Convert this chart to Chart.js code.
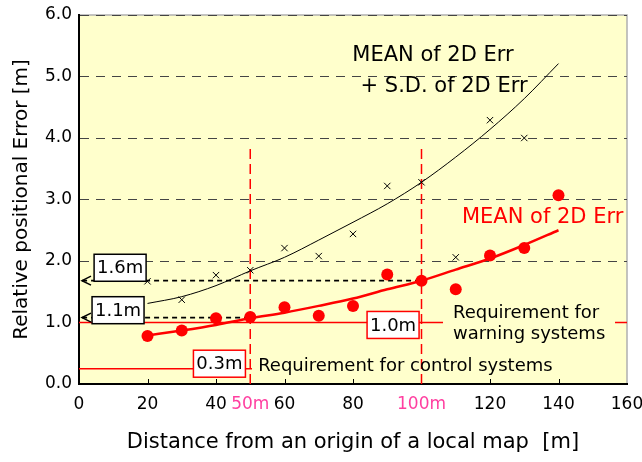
<!DOCTYPE html>
<html>
<head>
<meta charset="utf-8">
<script src="https://cdn.jsdelivr.net/npm/chart.js@4.4.1/dist/chart.umd.min.js"></script>
<style>
html, body { margin: 0; padding: 0; background: #fff; }
#wrap { width: 642px; height: 462px; }
</style>
</head>
<body>
<div id="wrap"><canvas id="chart" width="642" height="462"></canvas></div>
<script>
// Measured points
const distances = [20, 30, 40, 50, 60, 70, 80, 90, 100, 110, 120, 130, 140];
const meanErr = [0.78, 0.87, 1.07, 1.09, 1.25, 1.11, 1.27, 1.78, 1.68, 1.54, 2.09, 2.21, 3.07];
const sdDistances = [20, 30, 40, 50, 60, 70, 80, 90, 100, 110, 120, 130];
const meanSdErr = [1.67, 1.37, 1.77, 1.85, 2.21, 2.08, 2.44, 3.22, 3.28, 2.06, 4.29, 4.00];

// Fitted curves
const meanFit = [0.79, 0.87, 0.96, 1.07, 1.16, 1.27, 1.39, 1.54, 1.68, 1.86, 2.04, 2.26, 2.50];
const meanSdFit = [1.31, 1.42, 1.60, 1.84, 2.06, 2.34, 2.63, 2.93, 3.28, 3.69, 4.14, 4.64, 5.21];

// Reference levels
const warningLevel = 1.0;
const controlLevel = 0.25;
const level50 = 1.08;
const level100 = 1.68;
const markedDistances = [50, 100];
const markerTop = 3.87;

// Axes
const xTicks = [0, 20, 40, 50, 60, 80, 100, 120, 140, 160];
const xTickLabels = ['0', '20', '40', '50m', '60', '80', '100m', '120', '140', '160'];
const yTicks = [0, 1, 2, 3, 4, 5, 6];

const FONT = 'DejaVu Sans';
const RED = '#ff0000';
const PINK = '#ff3fa0';

function pts(xs, ys) {
    return xs.map((x, i) => ({ x: x, y: ys[i] }));
}

function hline(y, x0, x1) {
    return [{ x: x0, y: y }, { x: x1, y: y }];
}

// Labels in data coordinates
const textLabels = [
    { text: 'MEAN of 2D Err', x: 79.8, y: 5.34, color: '#000', size: 21 },
    { text: '+ S.D. of 2D Err', x: 82.2, y: 4.83, color: '#000', size: 21 },
    { text: 'MEAN of 2D Err', x: 111.8, y: 2.70, color: RED, size: 21 },
    { text: 'Requirement for control systems', x: 52.3, y: 0.28, color: '#000', size: 18 }
];
const boxLabels = [
    { text: '1.6m', x: 12.0, y: 1.89, border: '#000' },
    { text: '1.1m', x: 11.4, y: 1.20, border: '#000' },
    { text: '0.3m', x: 41.0, y: 0.33, border: RED },
    { text: '1.0m', x: 91.7, y: 0.96, border: RED }
];

const decorPlugin = {
    id: 'decor',
    beforeDraw(chart) {
        const { ctx, chartArea: a } = chart;
        ctx.save();
        ctx.fillStyle = '#ffffcc';
        ctx.fillRect(a.left, a.top, a.right - a.left, a.bottom - a.top);
        ctx.strokeStyle = '#b0b0b0';
        ctx.lineWidth = 1.5;
        ctx.beginPath();
        ctx.moveTo(a.left, a.top);
        ctx.lineTo(a.right, a.top);
        ctx.lineTo(a.right, a.bottom);
        ctx.stroke();
        ctx.restore();
    },
    afterDatasetsDraw(chart) {
        const { ctx, chartArea: a } = chart;
        const xs = chart.scales.x, ys = chart.scales.y;
        ctx.save();

        // inward tick marks
        ctx.strokeStyle = '#000';
        ctx.lineWidth = 1;
        xTicks.forEach(v => {
            if (v === 0 || v === 160 || markedDistances.includes(v)) return;
            const px = Math.round(xs.getPixelForValue(v)) + 0.5;
            ctx.beginPath();
            ctx.moveTo(px, a.bottom);
            ctx.lineTo(px, a.bottom - 5);
            ctx.stroke();
        });

        // arrow heads on the dashed levels
        [level100, level50].forEach(lv => {
            const px = xs.getPixelForValue(0) + 3;
            const py = ys.getPixelForValue(lv);
            ctx.lineWidth = 1.5;
            ctx.beginPath();
            ctx.moveTo(px + 9, py - 4.5);
            ctx.lineTo(px, py);
            ctx.lineTo(px + 9, py + 4.5);
            ctx.stroke();
        });

        // warning text on a yellow patch
        const wx = xs.getPixelForValue(109.2);
        const wy1 = ys.getPixelForValue(1.15);
        const wy2 = ys.getPixelForValue(0.80);
        ctx.fillStyle = '#ffffcc';
        ctx.fillRect(wx - 10, wy1 - 13, 172, wy2 - wy1 + 26);
        ctx.font = '18px "' + FONT + '"';
        ctx.fillStyle = '#000';
        ctx.textBaseline = 'middle';
        ctx.textAlign = 'left';
        ctx.fillText('Requirement for', wx, wy1);
        ctx.fillText('warning systems', wx, wy2);

        textLabels.forEach(l => {
            ctx.font = l.size + 'px "' + FONT + '"';
            ctx.fillStyle = l.color;
            ctx.fillText(l.text, xs.getPixelForValue(l.x), ys.getPixelForValue(l.y));
        });

        boxLabels.forEach(b => {
            const cx = xs.getPixelForValue(b.x);
            const cy = ys.getPixelForValue(b.y);
            const w = 52, h = 27;
            ctx.fillStyle = '#fff';
            ctx.fillRect(cx - w / 2, cy - h / 2, w, h);
            ctx.strokeStyle = b.border;
            ctx.lineWidth = 1.5;
            ctx.strokeRect(cx - w / 2, cy - h / 2, w, h);
            ctx.font = '18px "' + FONT + '"';
            ctx.fillStyle = '#000';
            ctx.textAlign = 'center';
            ctx.fillText(b.text, cx, cy + 1);
            ctx.textAlign = 'left';
        });
        ctx.restore();
    }
};

const lineStyle = { pointRadius: 0, fill: false, showLine: true };

new Chart(document.getElementById('chart'), {
    type: 'scatter',
    data: {
        datasets: [
            {
                label: 'MEAN',
                data: pts(distances, meanErr),
                pointStyle: 'circle',
                pointRadius: 6,
                backgroundColor: RED,
                borderWidth: 0
            },
            {
                label: 'MEAN + SD',
                data: pts(sdDistances, meanSdErr),
                pointStyle: 'crossRot',
                pointRadius: 4.5,
                borderColor: '#000',
                borderWidth: 1
            },
            Object.assign({
                label: 'MEAN fit',
                data: pts(distances, meanFit),
                borderColor: RED,
                borderWidth: 2.5,
                cubicInterpolationMode: 'monotone'
            }, lineStyle),
            Object.assign({
                label: 'MEAN + SD fit',
                data: pts(distances, meanSdFit),
                borderColor: '#000',
                borderWidth: 1,
                cubicInterpolationMode: 'monotone'
            }, lineStyle),
            Object.assign({
                data: hline(level100, 0.9, 100),
                borderColor: '#000',
                borderWidth: 1.8,
                borderDash: [5, 4]
            }, lineStyle),
            Object.assign({
                data: hline(level50, 0.9, 50),
                borderColor: '#000',
                borderWidth: 1.8,
                borderDash: [5, 4]
            }, lineStyle),
            Object.assign({
                data: [{ x: markedDistances[0], y: 0 }, { x: markedDistances[0], y: markerTop }],
                borderColor: RED,
                borderWidth: 1.5,
                borderDash: [10, 5]
            }, lineStyle),
            Object.assign({
                data: [{ x: markedDistances[1], y: 0 }, { x: markedDistances[1], y: markerTop }],
                borderColor: RED,
                borderWidth: 1.5,
                borderDash: [10, 5]
            }, lineStyle),
            Object.assign({
                data: hline(warningLevel, 0, 160),
                borderColor: RED,
                borderWidth: 1.5
            }, lineStyle),
            Object.assign({
                data: hline(controlLevel, 0, 50.5),
                borderColor: RED,
                borderWidth: 1.5
            }, lineStyle)
        ]
    },
    options: {
        responsive: false,
        animation: false,
        layout: { padding: { top: 15, right: 15, left: 0, bottom: 0 } },
        plugins: {
            legend: { display: false },
            tooltip: { enabled: false }
        },
        scales: {
            x: {
                type: 'linear',
                min: 0,
                max: 160,
                afterFit(scale) {
                    scale.height = 78;
                    scale.paddingLeft = 0;
                    scale.paddingRight = 0;
                },
                afterBuildTicks(scale) { scale.ticks = xTicks.map(v => ({ value: v })); },
                grid: { drawOnChartArea: false, drawTicks: false },
                border: { color: '#000', width: 2 },
                ticks: {
                    autoSkip: false,
                    maxRotation: 0,
                    padding: 10,
                    font: { family: FONT, size: 17 },
                    color: ctx => markedDistances.includes(ctx.tick.value) ? PINK : '#000',
                    callback: (v, i) => xTickLabels[i]
                },
                title: {
                    display: true,
                    text: 'Distance from an origin of a local map  [m]',
                    color: '#000',
                    font: { family: FONT, size: 21 },
                    padding: { top: 0, bottom: 7 }
                }
            },
            y: {
                min: 0,
                max: 6,
                afterFit(scale) {
                    scale.width = 79;
                    scale.paddingTop = 0;
                    scale.paddingBottom = 0;
                },
                afterBuildTicks(scale) { scale.ticks = yTicks.map(v => ({ value: v })); },
                grid: {
                    drawTicks: false,
                    color: ctx => ctx.tick && ctx.tick.value === 0 ? 'rgba(0,0,0,0)' : '#444',
                    lineWidth: 1
                },
                border: { color: '#000', width: 2, dash: [9, 7] },
                ticks: {
                    padding: 7,
                    font: { family: FONT, size: 17 },
                    color: '#000',
                    callback: v => v.toFixed(1)
                },
                title: {
                    display: true,
                    text: 'Relative positional Error [m]',
                    color: '#000',
                    font: { family: FONT, size: 20 },
                    padding: { top: 10, bottom: 0 }
                }
            }
        }
    },
    plugins: [decorPlugin]
});
</script>
</body>
</html>
